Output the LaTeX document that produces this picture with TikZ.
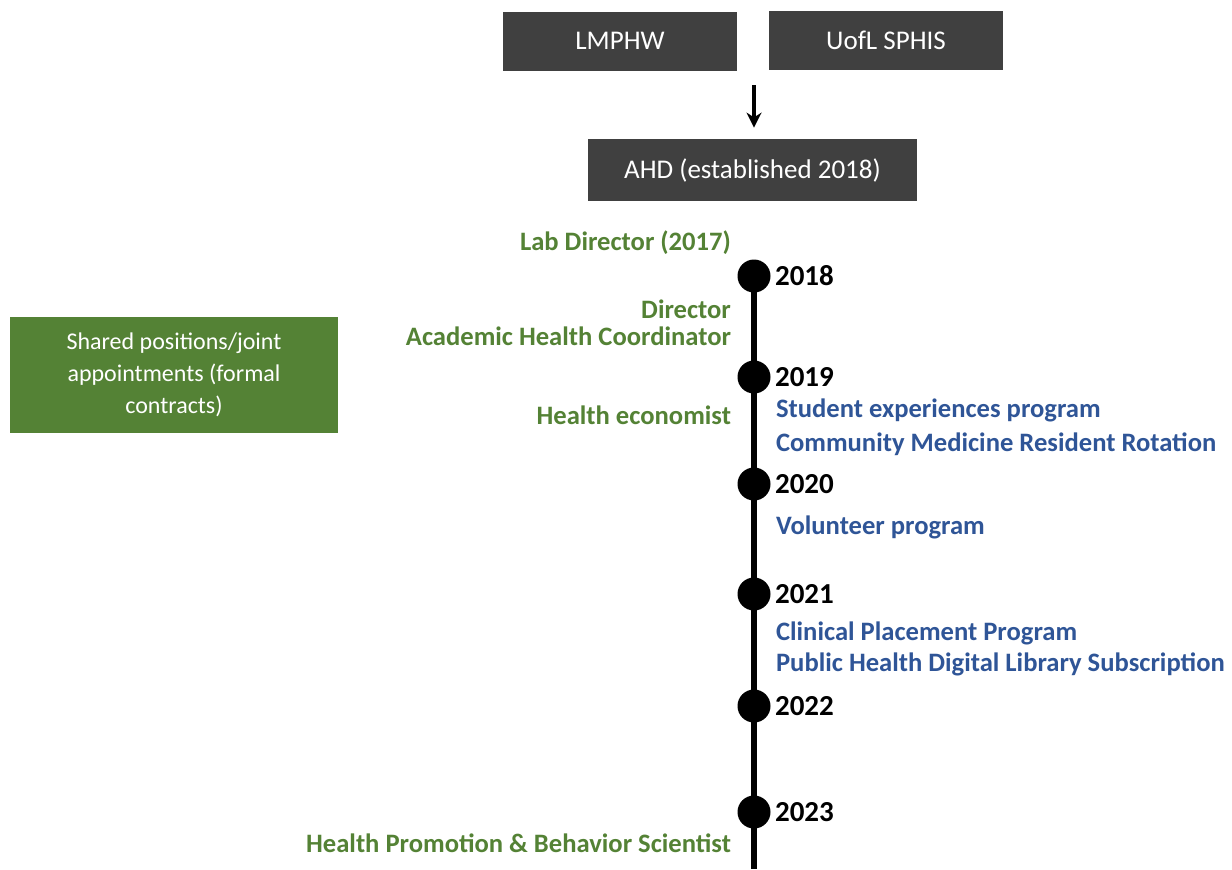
\documentclass[tikz,border=0pt]{standalone}
\usepackage{fontspec}
\setmainfont{Carlito}
\usetikzlibrary{positioning, arrows.meta}
\definecolor{boxgray}{HTML}{404040}
\definecolor{rolegreen}{HTML}{548235}
\definecolor{progblue}{HTML}{2F5597}
\tikzset{
x=0.5pt, y=-0.5pt, % one unit is one pixel, y runs down
orgbox/.style={fill=boxgray, text=white, minimum width=117pt, minimum height=29.5pt, font=\fontsize{13.5}{16}\selectfont}, % dark boxes on top
year/.style={circle, fill=black, inner sep=0pt, minimum size=16.5pt}, % dots on the time line
yeartext/.style={anchor=west, font=\bfseries\fontsize{14.5}{17}\selectfont}, % year beside each dot
role/.style={anchor=east, text=rolegreen, font=\bfseries\fontsize{13.3}{16}\selectfont}, % positions, left side
prog/.style={anchor=west, text=progblue, font=\bfseries\fontsize{13.3}{16}\selectfont}, % programs, right side
}

\begin{document}
\begin{tikzpicture}
    \useasboundingbox (0,0) rectangle (1232,869);
    % partners and the department
    \node[orgbox] (lmphw) at (620,41) {LMPHW};
    \node[orgbox] (uofl) at (886,40) {UofL SPHIS};
    \node[orgbox, minimum width=164.5pt, minimum height=31pt] (ahd) at (752.5,170) {AHD (established 2018)};
    \coordinate (merge) at (754,85);
    \draw[-{Stealth[length=7.5pt, width=7.5pt]}, line width=1.8pt, shorten >=5.5pt] (merge) -- (merge |- ahd.north);

    % legend box
    \node[fill=rolegreen, text=white, align=center, minimum width=164pt, minimum height=58pt,
      font=\fontsize{12}{16}\selectfont] (shared) at (174,375)
      {Shared positions/joint\\appointments (formal\\contracts)};

    % time line
    \coordinate (tlend) at (754,869);
    \node[year] (y2018) at (754,276) {};
    \node[year] (y2019) at (754,377) {};
    \node[year] (y2020) at (754,484) {};
    \node[year] (y2021) at (754,594) {};
    \node[year] (y2022) at (754,706) {};
    \node[year] (y2023) at (754,812) {};
    \draw[line width=2.6pt] (y2018.center) -- (tlend);
    \foreach \yr in {2018,2019,2020,2021,2022,2023}
      \node[yeartext] at ([xshift=7pt]y\yr.center) {\yr};

    % positions
    \node[role] (labdir) at (738,243) {Lab Director (2017)};
    \node[role] (dir) at (738,309) {Director};
    \node[role] (ahc) at (738,336) {Academic Health Coordinator};
    \node[role] (econ) at (738,415) {Health economist};
    \node[role] (hpbs) at (738,843) {Health Promotion \& Behavior Scientist};

    % programs
    \node[prog] (student) at (769,410) {Student experiences program};
    \node[prog] (resident) at (769,444) {Community Medicine Resident Rotation};
    \node[prog] (volunteer) at (769,527) {Volunteer program};
    \node[prog] (clinical) at (769,633) {Clinical Placement Program};
    \node[prog] (library) at (769,664) {Public Health Digital Library Subscription};
\end{tikzpicture}
\end{document}
